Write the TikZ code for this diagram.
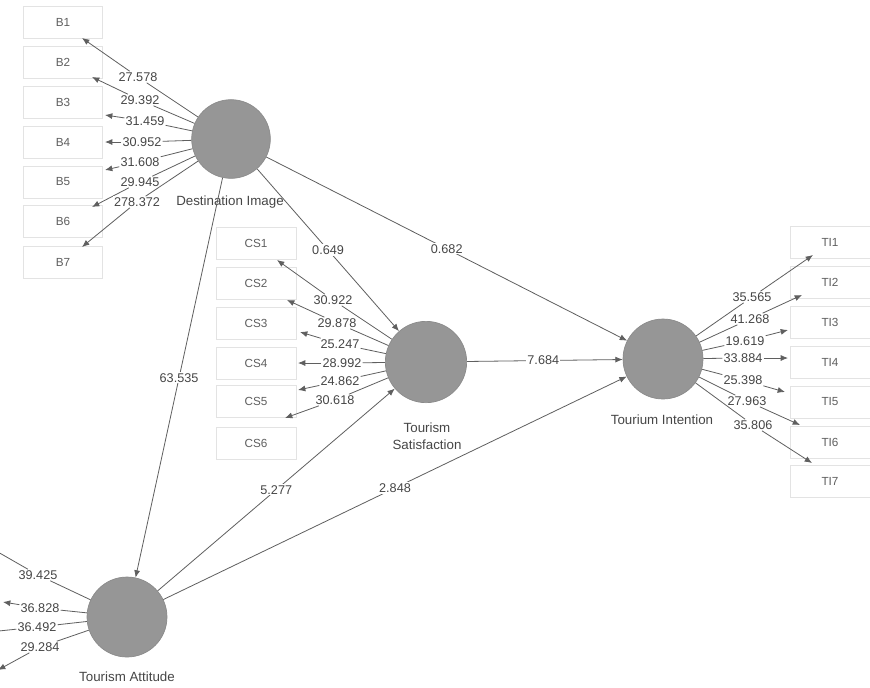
\documentclass[tikz,border=0pt]{standalone}
\usepackage{fontspec}
\setmainfont{Liberation Sans}
\usetikzlibrary{arrows.meta}
\definecolor{lvfill}{RGB}{150,150,150}
\definecolor{lvline}{RGB}{138,138,138}
\definecolor{lnc}{RGB}{95,95,95}
\definecolor{txc}{RGB}{70,70,70}
\definecolor{boxtx}{RGB}{95,95,95}
\begin{document}
\begin{tikzpicture}[x=0.75pt,y=-0.75pt,
  lv/.style={circle,fill=lvfill,draw=lvline,line width=0.5pt,minimum size=59pt,inner sep=0pt},
  ind/.style={draw=gray!22,line width=0.5pt,minimum width=59pt,minimum height=24pt,inner sep=0pt,text=boxtx,font=\fontsize{8.8}{10}\selectfont},
  ld/.style={fill=white,inner sep=0.8pt,text=txc,font=\fontsize{9.5}{10}\selectfont},
  nm/.style={text=txc,font=\fontsize{10}{12.75}\selectfont,align=center},
  conn/.style={draw=lnc,line width=0.6pt},
  arr/.style={conn,-{Latex[length=5.5pt,width=4.5pt]}}]
\useasboundingbox (0,0) rectangle (870,687);
\fill[white] (0,0) rectangle (870,687);

% indicator boxes
\foreach \i/\y in {1/22,2/62,3/102,4/142,5/182,6/221,7/262}
  \node[ind] (B\i) at (63,\y) {B\i};
\foreach \i/\y in {1/243,2/283,3/323,4/363,5/401,6/443}
  \node[ind,minimum width=60pt] (CS\i) at (256,\y) {CS\i};
\foreach \i/\y in {1/242,2/282,3/322,4/362,5/402,6/442,7/481}
  \node[ind,minimum width=60pt] (TI\i) at (830,\y) {TI\i};

% latent variables
\node[lv] (DI) at (231,139) {};
\node[lv,minimum size=61pt] (TS) at (426,362) {};
\node[lv,minimum size=60pt] (TN) at (663,359) {};
\node[lv,minimum size=60pt] (TA) at (127,617) {};

\node[nm] (nDI) at (230,202) {Destination Image};
\node[nm] (nTS) at (427,436) {Tourism\\Satisfaction};
\node[nm] (nTN) at (662,420) {Tourium Intention};
\node[nm] (nTA) at (127,677) {Tourism Attitude};

% Destination Image loadings
\foreach \k/\v/\lx/\ly/\tx/\ty in {
  1/27.578/138/77/82/38,
  2/29.392/140/100/92/77,
  3/31.459/145/121/105/115,
  4/30.952/142/142/105/142,
  5/31.608/140/162/105/170,
  6/29.945/140/182/92/207,
  7/278.372/137/202/82/247}{
  \node[ld] (d\k) at (\lx,\ly) {\v};
  \coordinate (td\k) at (\tx,\ty);
  \draw[conn] (DI) -- (d\k);
  \draw[arr] (d\k) -- (td\k);
}

% Tourism Satisfaction loadings
\foreach \k/\v/\lx/\ly/\tx/\ty in {
  1/30.922/333/300/277/260,
  2/29.878/337/323/287/300,
  3/25.247/340/344/300/332,
  4/28.992/342/363/298/363,
  5/24.862/340/381/298/390,
  6/30.618/335/400/285/418}{
  \node[ld] (c\k) at (\lx,\ly) {\v};
  \coordinate (tc\k) at (\tx,\ty);
  \draw[conn] (TS) -- (c\k);
  \draw[arr] (c\k) -- (tc\k);
}

% Tourism Intention loadings
\foreach \k/\v/\lx/\ly/\tx/\ty in {
  1/35.565/752/297/813/255,
  2/41.268/750/319/802/295,
  3/19.619/745/341/788/330,
  4/33.884/743/358/788/358,
  5/25.398/743/380/785/392,
  6/27.963/747/401/800/425,
  7/35.806/753/425/812/463}{
  \node[ld] (t\k) at (\lx,\ly) {\v};
  \coordinate (tt\k) at (\tx,\ty);
  \draw[conn] (TN) -- (t\k);
  \draw[arr] (t\k) -- (tt\k);
}

% Tourism Attitude loadings
\foreach \k/\v/\lx/\ly/\tx/\ty in {
  1/39.425/38/575/-30/536,
  2/36.828/40/608/3/602,
  3/36.492/37/627/-30/634,
  4/29.284/40/647/-2/670}{
  \node[ld] (a\k) at (\lx,\ly) {\v};
  \coordinate (ta\k) at (\tx,\ty);
  \draw[conn] (TA) -- (a\k);
  \draw[arr] (a\k) -- (ta\k);
}

% structural paths
\draw[arr] (DI) -- node[ld] {63.535} (TA);
\draw[arr] (DI) -- node[ld,pos=0.5] {0.649} (TS);
\draw[arr] (DI) -- node[ld] {0.682} (TN);
\draw[arr] (TS) -- node[ld,pos=0.49] {7.684} (TN);
\draw[arr] (TA) -- node[ld] {5.277} (TS);
\draw[arr] (TA) -- node[ld] {2.848} (TN);
\end{tikzpicture}
\end{document}
